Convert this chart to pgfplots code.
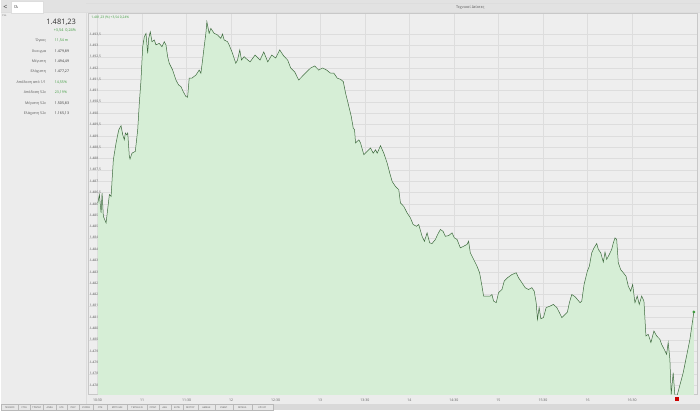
\documentclass[border=0pt]{standalone}
\usepackage{fontspec}
\setmainfont{Open Sans}
\usepackage{pgfplots}
\usepackage{pgfplotstable}
\pgfplotsset{compat=1.18}
\definecolor{pagebg}{HTML}{ECECEC}
\definecolor{topbar}{HTML}{E2E2E2}
\definecolor{plotbg}{HTML}{EEEEEE}
\definecolor{gridc}{HTML}{DDDDDD}
\definecolor{fillg}{HTML}{D6EED6}
\definecolor{lineg}{HTML}{3E6A3E}
\definecolor{upg}{HTML}{3A9A3A}
\definecolor{labc}{HTML}{5A5A5A}
\definecolor{valc}{HTML}{303030}
\definecolor{tabbar}{HTML}{D9D9D9}
\definecolor{tabfill}{HTML}{E6E6E6}
\definecolor{tabdraw}{HTML}{B8B8B8}
\definecolor{axisc}{HTML}{C8C8C8}
\pgfplotstableread{
m v
0.2 1486.04
1.28 1486.41
2.42 1485.60
3.09 1486.48
3.96 1485.45
5.78 1485.16
8.0 1486.41
9.14 1486.33
10.68 1487.95
12.5 1488.69
14.31 1489.27
15.86 1489.45
17.0 1489.05
18.08 1488.83
18.75 1489.13
19.69 1489.05
20.36 1489.13
21.44 1488.10
21.91 1487.98
23.25 1488.24
25.47 1488.32
27.08 1489.27
28.16 1490.45
29.3 1491.47
30.44 1492.94
31.52 1493.38
32.66 1493.53
33.8 1492.65
34.47 1493.31
35.55 1493.60
36.69 1493.16
38.24 1493.24
39.38 1493.02
41.6 1493.09
43.41 1492.94
44.96 1493.16
46.1 1493.02
47.24 1492.50
48.32 1492.21
50.6 1491.91
52.82 1491.47
54.63 1491.25
56.18 1491.18
57.72 1490.96
59.54 1490.74
60.68 1490.71
61.76 1491.55
63.57 1491.55
66.26 1491.69
68.48 1491.91
69.62 1491.77
70.76 1492.35
71.84 1492.94
72.98 1493.53
73.65 1494.04
75.2 1493.53
76.34 1493.75
78.56 1493.53
80.84 1493.46
83.06 1493.31
84.2 1493.50
85.28 1493.24
87.56 1493.16
88.64 1493.02
90.92 1492.65
92.0 1492.43
93.14 1492.21
94.28 1492.35
95.83 1492.80
96.97 1492.35
98.72 1492.50
99.86 1492.43
102.74 1492.27
106.1 1492.57
109.46 1492.35
111.96 1492.71
114.65 1492.27
117.33 1492.57
120.02 1492.44
122.71 1492.80
125.39 1492.53
128.08 1492.35
130.1 1492.00
132.79 1491.83
135.48 1491.47
138.16 1491.65
140.85 1491.83
143.54 1492.00
146.23 1492.09
148.92 1491.91
151.6 1492.00
154.29 1491.91
156.98 1491.77
159.2 1491.77
161.48 1491.55
163.7 1491.50
165.51 1491.40
167.06 1490.89
169.28 1490.30
170.89 1489.86
172.23 1489.35
173.11 1489.27
173.78 1488.69
176.0 1488.83
177.14 1488.69
179.36 1488.17
181.64 1488.32
183.86 1488.47
185.67 1488.24
187.22 1488.39
188.36 1488.24
190.58 1488.57
192.8 1488.24
195.08 1487.80
196.83 1487.36
198.44 1486.99
200.66 1486.77
202.88 1486.63
204.02 1486.04
206.24 1485.89
208.52 1485.60
210.74 1485.38
212.55 1485.09
214.77 1485.01
216.32 1485.09
218.6 1484.57
220.15 1484.35
221.96 1484.72
223.71 1484.28
225.32 1484.25
227.54 1484.43
229.08 1484.65
230.9 1484.87
232.71 1484.79
234.26 1484.57
236.48 1484.60
238.76 1484.72
240.31 1484.50
242.12 1484.43
244.34 1484.06
246.56 1484.13
248.84 1484.21
249.92 1484.35
251.06 1483.84
253.28 1483.55
255.56 1483.25
257.31 1482.96
258.92 1482.37
260.0 1481.93
262.28 1481.93
264.5 1481.93
265.64 1482.00
266.72 1481.71
268.53 1481.64
270.08 1482.08
272.36 1482.22
273.91 1482.59
276.12 1482.74
279.08 1482.88
281.97 1482.96
283.52 1482.74
285.8 1482.52
288.02 1482.30
290.24 1482.22
292.52 1482.30
294.07 1482.15
295.41 1481.64
296.28 1480.90
297.43 1481.42
298.57 1480.93
300.32 1480.98
302.13 1481.42
304.82 1481.49
307.04 1481.56
309.32 1481.42
311.07 1481.20
312.68 1480.98
314.9 1481.12
316.44 1481.22
317.79 1481.64
319.4 1482.00
321.62 1481.90
323.16 1481.78
324.98 1481.64
326.12 1481.71
327.67 1482.44
329.88 1483.03
331.23 1483.25
332.84 1483.84
334.39 1484.06
336.2 1484.25
337.28 1483.99
338.89 1483.84
340.64 1483.43
341.78 1483.87
342.92 1483.55
344.67 1483.77
346.28 1483.99
347.36 1484.28
348.5 1484.50
349.64 1484.43
350.72 1483.40
352.33 1483.10
354.08 1482.96
355.89 1482.81
357.44 1482.37
359.05 1482.15
360.39 1482.44
361.94 1481.64
363.48 1481.93
364.83 1481.56
366.44 1481.93
367.99 1481.71
369.33 1480.17
370.88 1480.24
372.69 1479.88
374.71 1480.39
376.52 1480.17
378.74 1480.02
379.88 1479.80
381.63 1479.58
383.24 1479.36
384.32 1479.88
385.46 1479.14
386.33 1477.58
387.68 1478.55
388.82 1477.55
389.96 1477.45
394.44 1478.55
398.94 1480.02
401.63 1481.23
}\linedata
\newcommand\fs[1]{\fontsize{#1}{#1}\selectfont}
\begin{document}
\begin{tikzpicture}[x=1pt,y=1pt]
% page background
\fill[pagebg] (0,0) rectangle (700,411);
% top bar
\fill[topbar] (0,399) rectangle (700,411);
\draw[gridc,line width=0.4pt] (0,399) -- (700,399);
\draw[gridc,line width=0.3pt] (85,407.5) -- (700,407.5);
\node[text=labc,font=\fs{3.8}] at (470,403.5) {Τεχνικοί Δείκτες};
% back arrow and search box
\node[text=valc,font=\fs{7}] at (4,404) {<};
\draw[fill=white,draw=gridc,line width=0.4pt] (10,398) rectangle (42,409.5);
\node[anchor=west,text=valc,font=\fs{3.8},inner sep=0pt] at (12.5,403.7) {ΓΔ};
\node[anchor=west,text=labc,font=\fs{2.6},inner sep=0pt] at (1,395) {Γ.Δ.};
% left panel separator
\draw[gridc,line width=0.4pt] (85,6) -- (85,399);
% left panel info
\node[anchor=east,text=valc,font=\fs{7.5},inner sep=0pt] at (75,389) {1.481,23};
\node[anchor=east,text=upg,font=\fs{3.8},inner sep=0pt] at (75,380.5) {+3,54\hspace{2pt}0,24\%};
\foreach \lab/\val/\yy/\col in {
  {Όγκος}/{11,54 m}/370/upg,
  {Άνοιγμα}/{1.479,89}/359/valc,
  {Μέγιστη}/{1.494,49}/349/valc,
  {Ελάχιστη}/{1.477,27}/339/valc,
  {Απόδοση από 1/1}/{14,55\%}/328/upg,
  {Απόδοση 52ε}/{23,19\%}/318/upg,
  {Μέγιστη 52ε}/{1.505,83}/307/valc,
  {Ελάχιστη 52ε}/{1.165,13}/297/valc}{
  \node[anchor=east,text=labc,font=\fs{3.6},inner sep=0pt] at (45,\yy) {\lab};
  \node[anchor=west,text=\col,font=\fs{3.6},inner sep=0pt] at (53.5,\yy) {\val};
}
% bottom tabs
\fill[tabbar] (0,0) rectangle (700,6);
\foreach \xa/\xb/\lab in {0/17/ΓΕΝΙΚΟΣ,17/29/FTSE,29/42/ΤΡΑΠΕΖ,42/55/ΑΛΦΑ,55/66/ΕΤΕ,66/78/ΠΕΙΡ,78/92/ΕΥΡΩΒ,92/106/ΟΤΕ,106/126/ΜΥΤΙΛΗΝ,126/146/ΤΕΡΝΑ ΕΝ,146/158/ΟΠΑΠ,158/170/ΔΕΗ,170/182/ΕΛΠΕ,182/197/ΜΟΤΟΡ,197/214/ΑΔΜΗΕ,214/232/ΕΥΔΑΠ,232/251/ΜΠΕΛΑ,251/272/ΚΡΙ ΚΡΙ}{
  \draw[fill=tabfill,draw=tabdraw,line width=0.3pt] (\xa,0.3) rectangle (\xb,5.5);
  \node[text=labc,font=\fs{2.4},inner sep=0pt] at ({(\xa+\xb)/2},2.9) {\lab};
}
\begin{axis}[
  at={(87pt,16pt)}, anchor=south west, scale only axis,
  width=610pt, height=382pt,
  xmin=-6.3, xmax=403.6, ymin=1477.6, ymax=1494.43,
  axis background/.style={fill=plotbg},
  axis line style={draw=axisc, line width=0.4pt},
  grid=major, major grid style={draw=gridc, line width=0.35pt},
  xtick={0,30,60,90,120,150,180,210,240,270,300,330,360},
  xticklabels={10:30,11,11:30,12,12:30,13,13:30,14,14:30,15,15:30,16,16:30},
  ytick={1478,1478.5,...,1493.6},
  /pgf/number format/assume math mode=true,
  yticklabel={\pgfmathprintnumber[fixed,precision=1,use comma,1000 sep={.}]{\tick}},
  tick style={draw=none}, major tick length=0pt,
  yticklabel style={anchor=west, text=labc, font=\fs{3.3}, inner sep=1.5pt},
  xticklabel style={text=labc, font=\fs{3.5}, yshift=-1.5pt},
  clip mode=individual,
]
\addplot[fill=fillg, draw=none] table[x=m,y=v] {\linedata}
  -- (axis cs:401.63,1477.5) -- (axis cs:0.2,1477.5) -- cycle;
\addplot[draw=lineg, line width=0.5pt, mark=none] table[x=m,y=v] {\linedata};
\addplot[only marks, mark=*, mark size=1.2pt, mark options={fill=upg,draw=upg}] coordinates {(401.63,1481.23)};
\addplot[only marks, mark=square*, mark size=1.3pt, mark options={fill=red!80!black,draw=red!80!black}, clip=false] coordinates {(389.96,1477.4)};
\node[anchor=west,text=upg,font=\fs{3.3},inner sep=0pt] at (rel axis cs:0.005,0.988) {1.481,23 (\%) +3,54 0,24\%};
\end{axis}
\end{tikzpicture}
\end{document}
